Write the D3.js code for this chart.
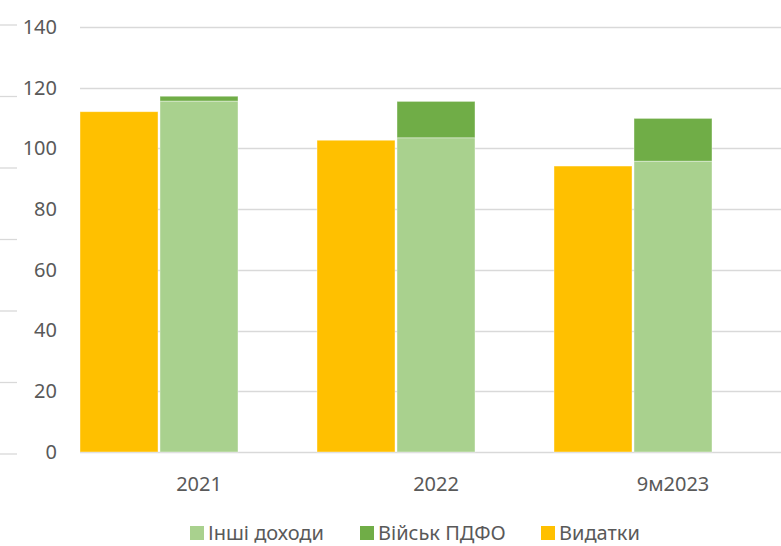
<!DOCTYPE html>
<html>
<head>
<meta charset="utf-8">
<script src="https://cdn.jsdelivr.net/npm/d3@7"></script>
<style>
  body { margin: 0; background: #fff; }
  svg { display: block; font-family: "Noto Sans", "Open Sans", sans-serif; }
</style>
</head>
<body>
<svg id="chart" width="781" height="546"></svg>
<script>
// data
var categories = ["2021", "2022", "9м2023"];
var expenses = [112.1, 102.7, 94.2];      // Видатки
var otherIncome = [115.6, 103.5, 95.8];   // Інші доходи
var militaryPit = [1.6, 12.0, 14.1];      // Військ ПДФО
var yTicks = [0, 20, 40, 60, 80, 100, 120, 140];
var legendItems = ["Інші доходи", "Військ ПДФО", "Видатки"];

var colors = {
    expenses: "#FFC000",
    other: "#A9D18E",
    military: "#70AD47"
};

let svg = d3.select("#chart");

// Margin
let margin = { top: 27, bottom: 452, left: 80, right: 781 };

// Scales
let yScale = d3.scaleLinear()
    .domain([0, 140])
    .range([margin.bottom, margin.top]);

let xScale = d3.scaleBand()
    .domain(categories)
    .range([40.5, 751.5])
    .paddingInner(79 / 237)
    .paddingOuter(79 / 237 / 2);

let innerScale = d3.scaleBand()
    .domain(["exp", "inc"])
    .range([0, xScale.bandwidth()])
    .paddingInner(0.025);

// Left stubs (secondary grid remnants)
let stubScale = d3.scaleLinear().domain([0, 6]).range([454, 25]);
svg.append("g").selectAll("line")
    .data(d3.range(7))
    .enter().append("line")
    .attr("x1", 0).attr("x2", 17)
    .attr("y1", (d) => stubScale(d)).attr("y2", (d) => stubScale(d))
    .attr("stroke", "#d9d9d9")
    .attr("stroke-width", 1.3);

// Gridlines
svg.append("g").selectAll("line")
    .data(yTicks)
    .enter().append("line")
    .attr("x1", margin.left).attr("x2", margin.right)
    .attr("y1", (d) => Math.round(yScale(d)) + 0.5)
    .attr("y2", (d) => Math.round(yScale(d)) + 0.5)
    .attr("stroke", "#d9d9d9")
    .attr("stroke-width", 1.3);

// Y-axis labels
let yAxis = d3.axisLeft(yScale).tickValues(yTicks).tickSize(0).tickPadding(0);
let yGroup = svg.append("g").attr("transform", "translate(57,0)").call(yAxis);
yGroup.select(".domain").remove();
yGroup.selectAll("text")
    .style("font-size", "20px")
    .style("font-family", "\"Noto Sans\", sans-serif")
    .attr("fill", "#595959");

// Bars
let groups = svg.append("g").selectAll("g")
    .data(categories)
    .enter().append("g")
    .attr("transform", (d) => "translate(" + xScale(d) + ",0)");

groups.append("rect")
    .attr("x", innerScale("exp"))
    .attr("width", innerScale.bandwidth())
    .attr("y", (d, i) => yScale(expenses[i]))
    .attr("height", (d, i) => yScale(0) - yScale(expenses[i]))
    .attr("fill", colors.expenses)
    .attr("stroke", "#fff").attr("stroke-opacity", 0.5).attr("stroke-width", 0.8);

groups.append("rect")
    .attr("x", innerScale("inc"))
    .attr("width", innerScale.bandwidth())
    .attr("y", (d, i) => yScale(otherIncome[i]))
    .attr("height", (d, i) => yScale(0) - yScale(otherIncome[i]))
    .attr("fill", colors.other)
    .attr("stroke", "#fff").attr("stroke-opacity", 0.5).attr("stroke-width", 0.8);

groups.append("rect")
    .attr("x", innerScale("inc"))
    .attr("width", innerScale.bandwidth())
    .attr("y", (d, i) => yScale(otherIncome[i] + militaryPit[i]))
    .attr("height", (d, i) => yScale(otherIncome[i]) - yScale(otherIncome[i] + militaryPit[i]))
    .attr("fill", colors.military)
    .attr("stroke", "#fff").attr("stroke-opacity", 0.5).attr("stroke-width", 0.8);

// X-axis labels (shifted right as in the original)
let xAxis = d3.axisBottom(xScale).tickSize(0).tickPadding(0);
let xGroup = svg.append("g")
    .attr("transform", "translate(40," + (margin.bottom + 25) + ")")
    .call(xAxis);
xGroup.select(".domain").remove();
xGroup.selectAll("text")
    .style("font-size", "20px")
    .style("font-family", "\"Noto Sans\", sans-serif")
    .attr("fill", "#595959");

// Legend
let legendX = [190, 360, 541];
let legendColors = [colors.other, colors.military, colors.expenses];
let legend = svg.append("g").selectAll("g")
    .data(legendItems)
    .enter().append("g")
    .attr("transform", (d, i) => "translate(" + legendX[i] + ",526)");

legend.append("rect")
    .attr("width", 14).attr("height", 14)
    .attr("fill", (d, i) => legendColors[i]);

legend.append("text")
    .text((d) => d)
    .attr("x", 18)
    .attr("y", 13.5)
    .style("font-size", "20px")
    .attr("fill", "#595959");
</script>
</body>
</html>
